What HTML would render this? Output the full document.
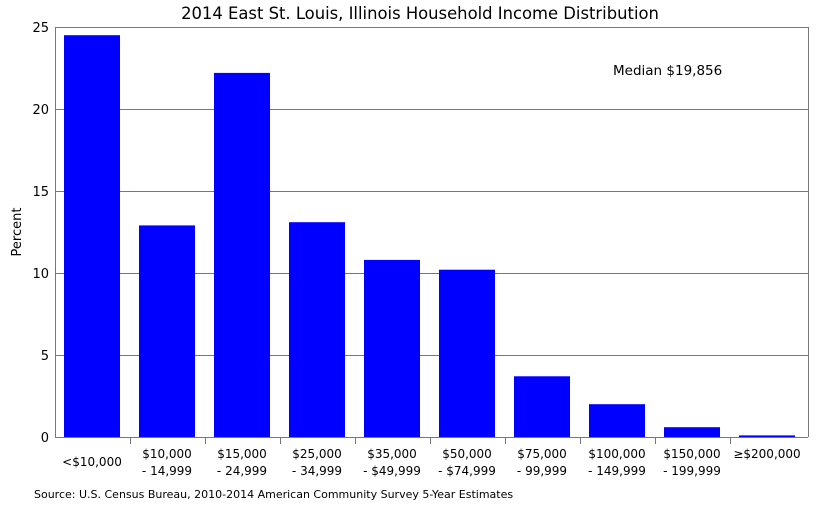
<!DOCTYPE html>
<html><head><style>body{margin:0;background:#fff}svg{display:block}text{font-family:"DejaVu Sans","Liberation Sans",sans-serif;fill:#000}</style></head><body>
<svg width="819" height="512" viewBox="0 0 819 512" xmlns="http://www.w3.org/2000/svg">
<rect width="819" height="512" fill="#fff"/>
<text x="420" y="19" font-size="16.4" text-anchor="middle">2014 East St. Louis, Illinois Household Income Distribution</text>
<g stroke="#777" stroke-width="1">
<line x1="55" y1="27.5" x2="808" y2="27.5"/>
<line x1="55" y1="109.5" x2="808" y2="109.5"/>
<line x1="55" y1="191.5" x2="808" y2="191.5"/>
<line x1="55" y1="273.5" x2="808" y2="273.5"/>
<line x1="55" y1="355.5" x2="808" y2="355.5"/>
<line x1="808.5" y1="27" x2="808.5" y2="437"/>
</g>
<g fill="#0000ff">
<rect x="64" y="35.2" width="56" height="401.8"/>
<rect x="139" y="225.4" width="56" height="211.6"/>
<rect x="214" y="72.9" width="56" height="364.1"/>
<rect x="289" y="222.2" width="56" height="214.8"/>
<rect x="364" y="259.9" width="56" height="177.1"/>
<rect x="439" y="269.7" width="56" height="167.3"/>
<rect x="514" y="376.3" width="56" height="60.7"/>
<rect x="589" y="404.2" width="56" height="32.8"/>
<rect x="664" y="427.2" width="56" height="9.8"/>
<rect x="739" y="435.4" width="56" height="1.6"/>
</g>
<g stroke="#777" stroke-width="1">
<line x1="55.5" y1="27" x2="55.5" y2="437"/>
<line x1="55" y1="437.5" x2="808" y2="437.5"/>
<line x1="130.5" y1="437" x2="130.5" y2="444"/><line x1="205.5" y1="437" x2="205.5" y2="444"/><line x1="280.5" y1="437" x2="280.5" y2="444"/><line x1="355.5" y1="437" x2="355.5" y2="444"/><line x1="430.5" y1="437" x2="430.5" y2="444"/><line x1="505.5" y1="437" x2="505.5" y2="444"/><line x1="580.5" y1="437" x2="580.5" y2="444"/><line x1="655.5" y1="437" x2="655.5" y2="444"/><line x1="730.5" y1="437" x2="730.5" y2="444"/>
</g>
<g font-size="13" text-anchor="end">
<text x="49" y="32">25</text><text x="49" y="114">20</text><text x="49" y="196">15</text><text x="49" y="278">10</text><text x="49" y="360">5</text><text x="49" y="442">0</text>
</g>
<text transform="translate(21,232) rotate(-90)" font-size="13" text-anchor="middle">Percent</text>
<text x="613" y="75" font-size="13.5">Median $19,856</text>
<g font-size="12" text-anchor="middle">
<text x="92" y="466">&lt;$10,000</text>
<text x="167" y="458">$10,000</text><text x="167" y="475">- 14,999</text>
<text x="242" y="458">$15,000</text><text x="242" y="475">- 24,999</text>
<text x="317" y="458">$25,000</text><text x="317" y="475">- 34,999</text>
<text x="392" y="458">$35,000</text><text x="392" y="475">- $49,999</text>
<text x="467" y="458">$50,000</text><text x="467" y="475">- $74,999</text>
<text x="542" y="458">$75,000</text><text x="542" y="475">- 99,999</text>
<text x="617" y="458">$100,000</text><text x="617" y="475">- 149,999</text>
<text x="692" y="458">$150,000</text><text x="692" y="475">- 199,999</text>
<text x="767" y="458">≥$200,000</text>
</g>
<text x="34" y="498" font-size="11">Source: U.S. Census Bureau, 2010-2014 American Community Survey 5-Year Estimates</text>
</svg>
</body></html>
